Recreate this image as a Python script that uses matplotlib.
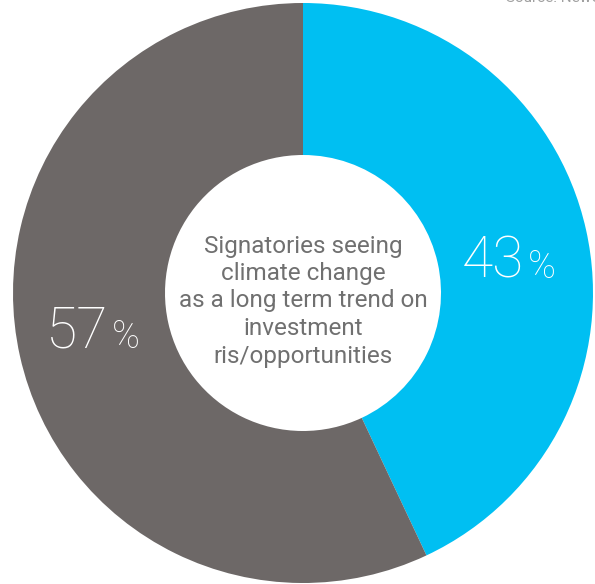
import matplotlib
matplotlib.use("Agg")
import matplotlib.pyplot as plt

# -----------------------------
# Data
# -----------------------------
labels = ["Yes", "No"]
shares = [43, 57]
colors = ["#00BFF2", "#6D6867"]
center_text = ("Signatories seeing\nclimate change\nas a long term trend on\n"
               "investment\nris/opportunities")

plt.rcParams["font.family"] = ["Roboto", "DejaVu Sans"]

fig = plt.figure(figsize=(5.95, 5.84), dpi=100)
ax = fig.add_axes([0, 0, 1, 1])

cx, cy, R = 303, 291, 290
hole = 138

ax.pie(shares, colors=colors, startangle=90, counterclock=False,
       center=(cx, cy), radius=R, frame=True,
       wedgeprops=dict(width=R - hole, linewidth=0))
ax.set_xlim(0, 595)
ax.set_ylim(0, 584)
ax.set_aspect("equal")
ax.axis("off")

# percentage labels (big number + smaller % on same baseline)
for pct, x_num, y_base in [(shares[0], 524, 306), (shares[1], 108, 236)]:
    ax.text(x_num, y_base, str(pct), ha="right", va="baseline", fontsize=41,
            color="white", fontweight="light")
    ax.text(x_num + 4, y_base, "%", ha="left", va="baseline", fontsize=27,
            color="white", fontweight="light")

ax.text(cx, 283, center_text, ha="center", va="center", fontsize=17.5,
        color="#707070", linespacing=1.25)

# clipped source note at top right
ax.text(506, 582, "Source: NewClimate", ha="left", va="baseline",
        fontsize=11, color="#A0A0A0")

fig.savefig("out.png", dpi=100)
